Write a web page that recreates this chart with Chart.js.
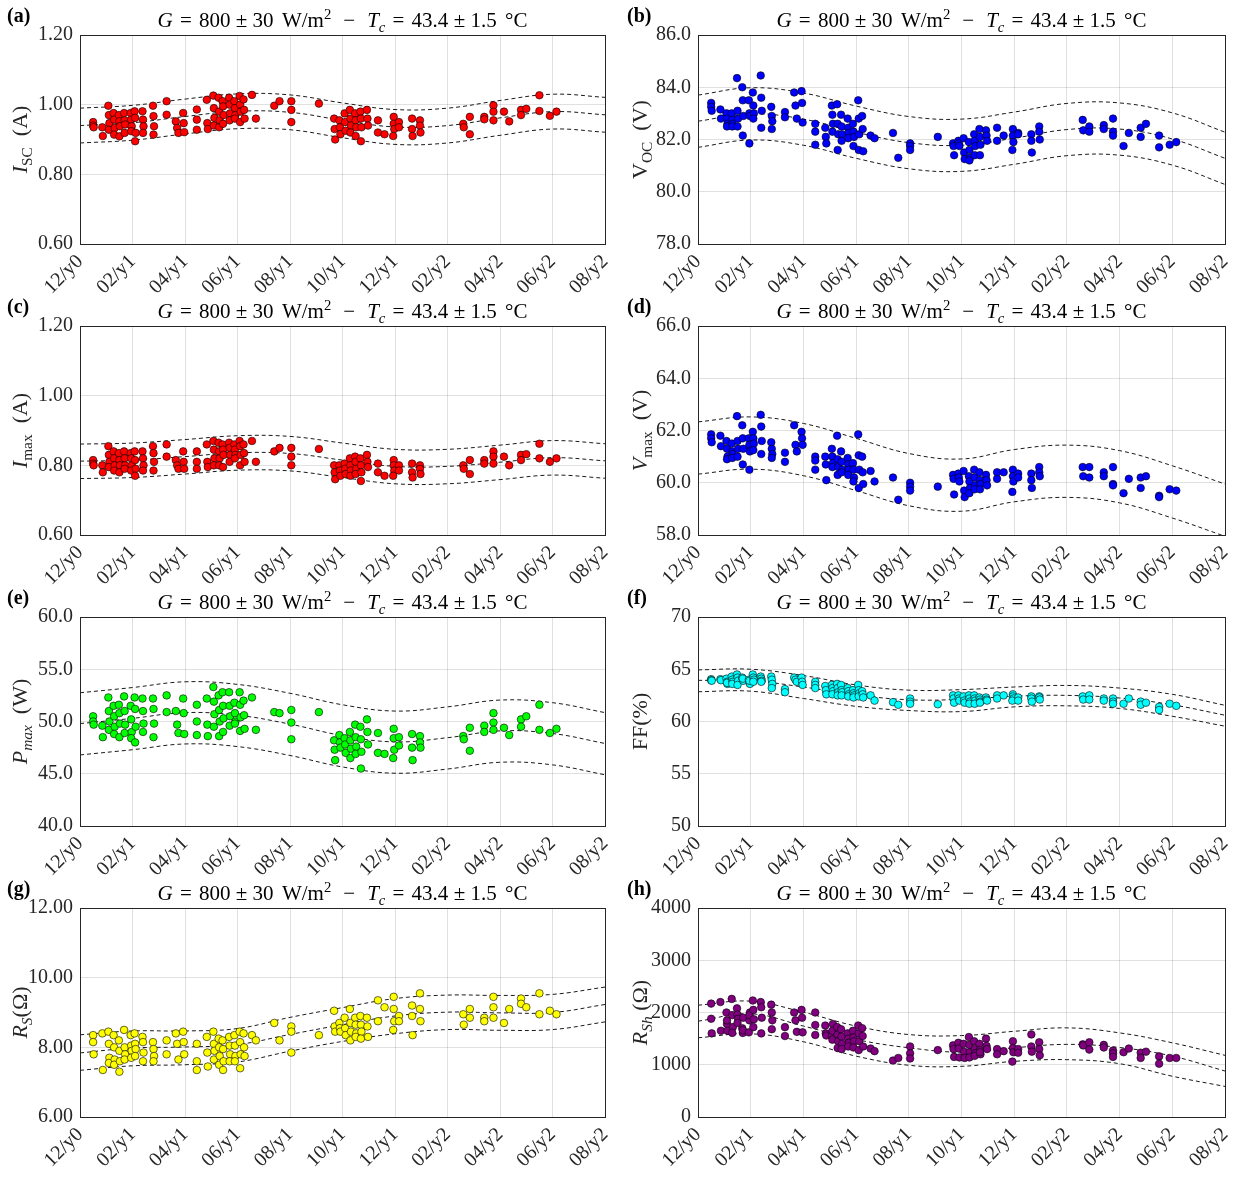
<!DOCTYPE html>
<html>
<head>
<meta charset="utf-8">
<script src="https://cdn.jsdelivr.net/npm/chart.js@4.4.0/dist/chart.umd.min.js"></script>
<style>
  body { margin: 0; background: #fff; }
  #wrap { position: relative; width: 1256px; height: 1180px; }
  #wrap canvas { position: absolute; }
</style>
</head>
<body>
<div id="wrap"></div>
<script>
// x axis: months counted from 12/y0
const monthLabels = ['12/y0', '02/y1', '04/y1', '06/y1', '08/y1', '10/y1', '12/y1', '02/y2', '04/y2', '06/y2', '08/y2'];
const lineMonths = [0, 2, 4, 6, 8, 10, 12, 14, 16, 18, 20];

// measurement dates (months), one row per measuring campaign
const measMonths = [
  0.50, 0.50, 0.52,
  0.85, 0.87,
  1.08, 1.10, 1.12, 1.10,
  1.28, 1.30, 1.32, 1.30,
  1.48, 1.50, 1.52, 1.50,
  1.68, 1.70, 1.72, 1.70,
  1.93, 1.95, 1.97, 1.95,
  2.08, 2.10, 2.12, 2.10,
  2.38, 2.40, 2.42, 2.40,
  2.78, 2.80, 2.82, 2.80,
  3.30, 3.30,
  3.65, 3.70, 3.75,
  3.93, 3.95, 3.97,
  4.45, 4.45, 4.45,
  4.83, 4.85, 4.87,
  5.08, 5.10, 5.12, 5.10,
  5.28, 5.30, 5.32, 5.30,
  5.43, 5.45, 5.47, 5.45,
  5.68, 5.70, 5.72, 5.70,
  5.88, 5.90, 5.92, 5.90,
  6.08, 6.10, 6.12, 6.10,
  6.23, 6.25, 6.27,
  6.55, 6.70,
  7.40,
  7.60,
  8.05, 8.05, 8.05,
  9.10,
  9.68, 9.70, 9.72,
  9.88, 9.90, 9.92,
  10.08, 10.10, 10.12,
  10.28, 10.30, 10.32, 10.30,
  10.48, 10.50, 10.52, 10.50,
  10.68, 10.70, 10.72, 10.70,
  10.93, 10.95, 10.97,
  11.35, 11.35,
  11.60,
  11.95, 11.95, 11.97, 11.93,
  12.15, 12.15,
  12.65, 12.65, 12.67,
  12.95, 12.95, 12.97,
  14.60, 14.62,
  14.85, 14.85,
  15.40, 15.40,
  15.75, 15.75, 15.75,
  16.15,
  16.35,
  16.80, 16.80,
  17.00,
  17.50, 17.50,
  17.90,
  18.15
];

// (a) Isc [A]
const iscVals = [
  0.950, 0.940, 0.935,
  0.935, 0.910,
  0.997, 0.970, 0.947, 0.928,
  0.976, 0.957, 0.933, 0.914,
  0.970, 0.952, 0.938, 0.909,
  0.976, 0.955, 0.943, 0.919,
  0.976, 0.957, 0.938, 0.924,
  0.981, 0.962, 0.919, 0.895,
  0.981, 0.957, 0.938, 0.919,
  0.997, 0.967, 0.938, 0.914,
  1.010, 0.971,
  0.952, 0.933, 0.919,
  0.976, 0.947, 0.921,
  0.986, 0.957, 0.928,
  1.014, 0.947, 0.930,
  1.026, 0.990, 0.962, 0.940,
  1.020, 0.980, 0.955, 0.935,
  1.010, 0.995, 0.970, 0.945,
  1.020, 1.000, 0.975, 0.955,
  1.010, 0.990, 0.970, 0.960,
  1.025, 1.000, 0.980, 0.950,
  1.015, 0.985, 0.960,
  1.028, 0.960,
  0.997,
  1.010,
  1.010, 0.985, 0.950,
  1.003,
  0.960, 0.930, 0.900,
  0.955, 0.935, 0.915,
  0.975, 0.950, 0.925,
  0.985, 0.960, 0.940, 0.920,
  0.975, 0.955, 0.935, 0.910,
  0.980, 0.960, 0.935, 0.895,
  0.985, 0.960, 0.940,
  0.955, 0.920,
  0.915,
  0.965, 0.945, 0.930, 0.910,
  0.950, 0.935,
  0.960, 0.930, 0.910,
  0.955, 0.940, 0.920,
  0.945, 0.935,
  0.965, 0.915,
  0.965, 0.958,
  0.998, 0.980, 0.955,
  0.980,
  0.952,
  0.985, 0.970,
  0.988,
  1.027, 0.982,
  0.968,
  0.980
];
const iscMid = [0.940, 0.948, 0.966, 0.981, 0.978, 0.955, 0.936, 0.940, 0.962, 0.980, 0.971];
const iscHi  = [0.990, 0.998, 1.016, 1.031, 1.028, 1.005, 0.986, 0.990, 1.012, 1.030, 1.021];
const iscLo  = [0.890, 0.898, 0.916, 0.931, 0.928, 0.905, 0.886, 0.890, 0.912, 0.930, 0.921];

// (b) Voc [V]
const vocVals = [
  83.40, 83.25, 83.10,
  83.15, 82.80,
  83.00, 82.80, 82.60, 82.50,
  83.00, 82.75, 82.60, 82.50,
  84.35, 83.10, 82.80, 82.50,
  84.00, 83.50, 82.90, 82.15,
  83.50, 83.00, 82.90, 81.85,
  83.80, 83.30, 83.00, 82.80,
  84.45, 83.60, 83.10, 82.45,
  83.25, 82.90, 82.70, 82.40,
  83.05, 82.85,
  83.80, 83.30, 82.80,
  83.85, 83.40, 82.65,
  82.60, 82.30, 81.80,
  82.45, 82.10, 81.85,
  83.30, 82.95, 82.60, 82.30,
  83.35, 82.60, 82.20, 81.60,
  82.95, 82.50, 82.20, 81.95,
  82.80, 82.45, 82.25, 82.05,
  82.60, 82.30, 82.10, 81.75,
  83.50, 82.80, 82.20, 81.60,
  82.90, 82.40, 81.55,
  82.15, 82.05,
  82.25,
  81.30,
  81.85, 81.75, 81.60,
  82.10,
  81.85, 81.75, 81.40,
  81.95, 81.85, 81.75,
  82.05, 81.50, 81.25,
  81.90, 81.60, 81.30, 81.20,
  82.20, 81.95, 81.75, 81.40,
  82.40, 82.10, 81.80, 81.40,
  82.35, 82.15, 81.95,
  82.45, 81.95,
  82.15,
  82.40, 82.15, 81.90, 81.60,
  82.25, 82.20,
  82.20, 81.95, 81.50,
  82.50, 82.30, 82.00,
  82.75, 82.35,
  82.50, 82.30,
  82.55, 82.40,
  82.80, 82.30, 82.15,
  81.75,
  82.25,
  82.45, 82.10,
  82.60,
  82.15, 81.70,
  81.80,
  81.90
];
const vocMid = [82.70, 82.98, 82.78, 82.28, 81.88, 81.78, 82.05, 82.38, 82.40, 82.02, 81.28];
const vocHi  = [83.70, 83.98, 83.78, 83.28, 82.88, 82.78, 83.05, 83.38, 83.40, 83.02, 82.28];
const vocLo  = [81.70, 81.98, 81.78, 81.28, 80.88, 80.78, 81.05, 81.38, 81.40, 81.02, 80.28];

// (c) Imax [A]
const imaxVals = [
  0.815, 0.805, 0.800,
  0.800, 0.780,
  0.855, 0.830, 0.810, 0.795,
  0.840, 0.820, 0.800, 0.785,
  0.835, 0.815, 0.800, 0.780,
  0.840, 0.820, 0.800, 0.790,
  0.835, 0.820, 0.800, 0.785,
  0.840, 0.815, 0.790, 0.770,
  0.840, 0.820, 0.800, 0.785,
  0.855, 0.835, 0.810, 0.785,
  0.860, 0.825,
  0.815, 0.800, 0.790,
  0.840, 0.810, 0.790,
  0.840, 0.810, 0.790,
  0.860, 0.810, 0.795,
  0.870, 0.845, 0.820, 0.800,
  0.865, 0.840, 0.820, 0.800,
  0.860, 0.845, 0.830, 0.795,
  0.865, 0.850, 0.830, 0.810,
  0.860, 0.845, 0.830, 0.820,
  0.870, 0.855, 0.830, 0.800,
  0.860, 0.835, 0.810,
  0.870, 0.810,
  0.840,
  0.850,
  0.850, 0.825, 0.800,
  0.847,
  0.800, 0.780, 0.760,
  0.800, 0.785, 0.770,
  0.805, 0.790, 0.775,
  0.820, 0.800, 0.785, 0.770,
  0.825, 0.810, 0.790, 0.775,
  0.820, 0.800, 0.780, 0.755,
  0.830, 0.810, 0.795,
  0.805, 0.780,
  0.770,
  0.815, 0.800, 0.785, 0.770,
  0.800, 0.785,
  0.805, 0.780, 0.765,
  0.800, 0.790, 0.775,
  0.800, 0.790,
  0.815, 0.775,
  0.815, 0.805,
  0.840, 0.825, 0.805,
  0.825,
  0.800,
  0.830, 0.815,
  0.832,
  0.862, 0.820,
  0.810,
  0.820
];
const imaxMid = [0.812, 0.815, 0.825, 0.836, 0.834, 0.815, 0.797, 0.797, 0.809, 0.822, 0.813];
const imaxHi  = [0.861, 0.864, 0.874, 0.885, 0.883, 0.864, 0.846, 0.846, 0.858, 0.871, 0.862];
const imaxLo  = [0.762, 0.765, 0.775, 0.786, 0.784, 0.765, 0.747, 0.747, 0.759, 0.772, 0.763];

// (d) Vmax [V]
const vmaxVals = [
  61.85, 61.70, 61.55,
  61.80, 61.40,
  61.60, 61.30, 61.00, 60.90,
  61.50, 61.20, 61.10, 60.95,
  62.55, 61.60, 61.30, 61.00,
  62.20, 61.70, 61.30, 60.70,
  61.70, 61.45, 61.20, 60.50,
  61.95, 61.70, 61.50, 61.25,
  62.60, 62.15, 61.60, 61.10,
  61.55, 61.30, 61.10, 60.95,
  61.15, 60.80,
  62.20, 61.45, 61.20,
  61.95, 61.70, 61.45,
  61.00, 60.85, 60.50,
  61.00, 60.70, 60.10,
  61.30, 61.00, 60.75, 60.60,
  61.80, 60.90, 60.60, 60.30,
  61.20, 60.80, 60.50, 60.40,
  60.95, 60.70, 60.50, 60.30,
  60.75, 60.50, 60.20, 60.05,
  61.85, 61.05, 60.50, 59.80,
  61.00, 60.40, 59.95,
  60.45, 60.05,
  60.20,
  59.35,
  60.00, 59.85, 59.70,
  59.85,
  60.30, 60.15, 59.55,
  60.35, 60.20, 60.05,
  60.45, 59.70, 59.45,
  60.25, 60.05, 59.80, 59.60,
  60.50, 60.20, 59.90, 59.75,
  60.40, 60.10, 59.95, 59.75,
  60.30, 60.10, 59.90,
  60.40, 60.15,
  60.40,
  60.50, 60.25, 60.05, 59.65,
  60.35, 60.20,
  60.35, 60.10, 59.80,
  60.60, 60.40, 60.25,
  60.60, 60.25,
  60.60, 60.20,
  60.40, 60.25,
  60.60, 59.95, 59.90,
  59.60,
  60.15,
  60.20, 59.80,
  60.25,
  59.50, 59.45,
  59.75,
  59.70
];
const vmaxHi = [62.33, 62.52, 62.27, 61.70, 61.12, 60.91, 61.27, 61.44, 61.23, 60.65, 59.95];
const vmaxLo = [60.33, 60.52, 60.27, 59.70, 59.12, 58.91, 59.27, 59.44, 59.23, 58.65, 57.95];

// (e) Pmax [W]
const pmaxVals = [
  50.5, 50.0, 49.7,
  49.6, 48.5,
  52.3, 51.0, 50.0, 49.2,
  51.5, 50.5, 49.5, 48.8,
  51.6, 50.8, 49.8, 48.5,
  52.4, 51.0, 49.7, 48.9,
  51.5, 50.2, 49.0, 48.4,
  52.3, 51.2, 49.5, 48.0,
  52.2, 51.0, 49.8, 49.0,
  52.2, 51.2, 49.8, 48.5,
  52.5, 50.9,
  51.0, 49.7, 48.9,
  52.2, 50.8, 48.8,
  51.6, 50.0, 48.7,
  52.2, 49.7, 48.6,
  53.3, 51.9, 50.7, 49.5,
  52.5, 51.1, 50.0, 48.6,
  52.8, 51.5, 50.3, 49.0,
  52.8, 51.5, 50.5, 49.6,
  51.8, 50.8, 50.0, 49.8,
  52.8, 51.6, 50.4, 49.1,
  52.0, 50.6, 49.3,
  52.3, 49.2,
  50.9,
  50.8,
  51.1, 49.9, 48.3,
  50.9,
  48.2, 47.3, 46.3,
  48.7, 48.0, 47.5,
  48.4, 47.8, 47.0,
  49.0, 48.2, 47.4, 46.5,
  49.7, 48.5, 47.6, 46.9,
  49.5, 48.3, 47.1, 45.5,
  50.2, 49.0, 47.8,
  48.9, 47.0,
  46.9,
  49.3, 48.4, 47.3, 46.5,
  48.5, 47.7,
  48.8, 47.5, 46.3,
  48.6, 48.0, 47.5,
  48.6, 48.3,
  49.4, 47.2,
  49.6, 49.0,
  50.8, 49.9, 49.2,
  49.4,
  48.7,
  50.2, 49.5,
  50.5,
  51.6, 49.2,
  48.9,
  49.3
];
const pmaxMid = [49.80, 50.30, 50.85, 50.60, 49.75, 48.65, 48.05, 48.45, 49.10, 48.85, 47.90];
const pmaxHi  = [52.75, 53.25, 53.80, 53.55, 52.70, 51.60, 51.00, 51.40, 52.05, 51.80, 50.85];
const pmaxLo  = [46.80, 47.30, 47.85, 47.60, 46.75, 45.65, 45.05, 45.45, 46.10, 45.85, 44.90];

// (f) FF [%]
const ffVals = [
  64.05, 63.95, 63.90,
  64.05, 63.95,
  64.10, 63.80, 63.60, 63.70,
  64.30, 64.00, 63.80, 63.60,
  64.50, 64.20, 63.90, 63.50,
  64.20, 64.00, 63.90, 64.10,
  64.00, 63.80, 63.60, 63.90,
  64.50, 64.20, 64.00, 63.80,
  64.30, 64.10, 63.90, 63.80,
  64.30, 64.00, 63.60, 63.20,
  63.10, 62.80,
  64.20, 64.00, 63.80,
  64.20, 63.80, 63.50,
  63.80, 63.50, 63.20,
  63.40, 63.00, 62.60,
  63.50, 63.20, 62.90, 62.60,
  63.60, 63.20, 62.80, 62.50,
  63.50, 63.00, 62.80, 62.50,
  63.20, 62.90, 62.60, 62.40,
  63.00, 62.70, 62.50, 62.30,
  63.50, 63.00, 62.70, 62.40,
  62.90, 62.60, 62.30,
  62.50, 62.00,
  61.85,
  61.60,
  62.20, 61.90, 61.70,
  61.65,
  62.50, 62.20, 61.80,
  62.50, 62.20, 62.00,
  62.40, 62.00, 61.80,
  62.50, 62.20, 61.90, 61.70,
  62.50, 62.20, 62.00, 61.70,
  62.30, 62.10, 61.90, 61.80,
  62.30, 62.10, 62.00,
  62.50, 62.20,
  62.50,
  62.60, 62.40, 62.20, 62.00,
  62.30, 62.00,
  62.40, 62.20, 61.90,
  62.40, 62.30, 62.10,
  62.40, 62.10,
  62.50, 62.10,
  62.20, 62.00,
  62.20, 61.90, 61.70,
  61.70,
  62.20,
  61.90, 61.60,
  61.80,
  61.40, 61.10,
  61.70,
  61.50
];
const ffMid = [63.94, 63.90, 63.30, 62.55, 62.08, 62.12, 62.42, 62.50, 62.25, 61.60, 60.60];
const ffHi  = [64.94, 65.00, 64.40, 63.50, 63.00, 63.05, 63.30, 63.45, 63.20, 62.60, 61.55];
const ffLo  = [62.85, 62.90, 62.20, 61.45, 61.05, 60.95, 61.40, 61.50, 61.25, 60.50, 59.55];

// (g) Rs [Ohm]
const rsVals = [
  8.35, 8.15, 7.80,
  8.40, 7.35,
  8.45, 8.10, 7.70, 7.55,
  8.35, 8.00, 7.65, 7.50,
  8.20, 7.90, 7.60, 7.30,
  8.50, 8.00, 7.80, 7.65,
  8.35, 8.05, 7.90, 7.70,
  8.40, 8.10, 7.95, 7.75,
  8.30, 8.15, 7.85, 7.60,
  8.15, 7.95, 7.75, 7.60,
  8.20, 7.80,
  8.40, 8.10, 7.65,
  8.45, 8.15, 7.80,
  8.10, 7.60, 7.35,
  8.30, 7.85, 7.45,
  8.45, 8.10, 7.90, 7.65,
  8.25, 8.00, 7.75, 7.50,
  8.20, 7.95, 7.60, 7.35,
  8.30, 8.05, 7.80, 7.60,
  8.35, 8.05, 7.75, 7.60,
  8.45, 8.15, 7.80, 7.40,
  8.40, 8.00, 7.75,
  8.35, 8.20,
  8.70,
  8.20,
  8.60, 8.45, 7.85,
  8.35,
  9.05, 8.60, 8.45,
  8.70, 8.55, 8.45,
  8.85, 8.55, 8.35,
  9.10, 8.70, 8.45, 8.20,
  8.85, 8.65, 8.40, 8.30,
  8.90, 8.65, 8.45, 8.25,
  8.85, 8.60, 8.30,
  9.35, 8.75,
  9.15,
  9.45, 9.10, 8.75, 8.50,
  8.90, 8.75,
  9.20, 8.90, 8.35,
  9.55, 9.10, 8.75,
  8.95, 8.65,
  9.10, 8.85,
  8.85, 8.75,
  9.45, 9.15, 8.85,
  8.70,
  9.10,
  9.40, 9.25,
  9.15,
  9.55, 8.95,
  9.05,
  8.95
];
const rsMid = [7.84, 7.98, 8.01, 8.08, 8.37, 8.65, 8.90, 9.01, 8.99, 9.00, 9.23];
const rsHi  = [8.36, 8.47, 8.47, 8.54, 8.86, 9.14, 9.40, 9.50, 9.49, 9.52, 9.73];
const rsLo  = [7.34, 7.47, 7.50, 7.58, 7.89, 8.17, 8.39, 8.51, 8.49, 8.51, 8.73];

// (h) Rsh [Ohm]
const rshVals = [
  2170, 1880, 1600,
  2200, 1650,
  2000, 1780, 1650, 1850,
  2260, 1950, 1720, 1610,
  2080, 1960, 1880, 1800,
  1700, 1610, 1900, 1660,
  1620, 1850, 2000, 1950,
  2230, 2050, 1870, 1720,
  2200, 2100, 1900, 1600,
  2150, 2000, 1850, 1680,
  1720, 1550,
  2000, 1850, 1630,
  2050, 1900, 1620,
  2000, 1760, 1570,
  1750, 1600, 1560,
  1550, 1480, 1780, 1650,
  1720, 1580, 1450, 1320,
  1680, 1540, 1400, 1300,
  1600, 1500, 1420, 1350,
  1650, 1520, 1450, 1330,
  1750, 1600, 1450, 1280,
  1700, 1550, 1350,
  1310, 1260,
  1080,
  1130,
  1350, 1220, 1120,
  1280,
  1370, 1300, 1150,
  1420, 1310, 1140,
  1400, 1250, 1130,
  1530, 1380, 1240, 1140,
  1450, 1300, 1220, 1170,
  1400, 1280, 1200, 1240,
  1500, 1360, 1300,
  1300, 1200,
  1260,
  1450, 1320, 1240, 1060,
  1300, 1230,
  1580, 1350, 1250,
  1430, 1300, 1180,
  1390, 1370,
  1430, 1290,
  1380, 1330,
  1270, 1220, 1150,
  1240,
  1310,
  1230, 1130,
  1250,
  1160, 1020,
  1130,
  1130
];
const rshMid = [1834, 1975, 1740, 1484, 1325, 1242, 1325, 1390, 1330, 1165, 880];
const rshHi  = [2140, 2216, 2006, 1740, 1578, 1558, 1640, 1706, 1610, 1420, 1180];
const rshLo  = [1516, 1592, 1440, 1165, 990, 970, 1065, 1097, 1020, 780, 585];

const SERIF = "'Liberation Serif', 'DejaVu Serif', serif";
const TEXT = '#262626';

// title pieces; gaps are stretched so the title spans TITLE_W
const TITLE_W = 370;
const titleSegs = [
  { t: 'G', it: 1 }, { gap: 0.3 }, { t: '=' }, { gap: 0.3 }, { t: '800' }, { gap: 0.22 }, { t: '±' }, { gap: 0.22 },
  { t: '30' }, { gap: 0.35 }, { t: 'W/m' }, { t: '2', sup: 1 }, { gap: 0.5 }, { t: '−' }, { gap: 0.5 },
  { t: 'T', it: 1 }, { t: 'c', it: 1, sub: 1 }, { gap: 0.3 }, { t: '=' }, { gap: 0.3 }, { t: '43.4' }, { gap: 0.22 },
  { t: '±' }, { gap: 0.22 }, { t: '1.5' }, { gap: 0.35 }, { t: '°C' }
];

const panels = [
  { letter: '(a)', vals: iscVals, lines: [iscHi, iscMid, iscLo], color: '#ff0000', min: 0.6, max: 1.2, step: 0.2, dec: 2,
    label: [{ t: 'I', it: 1 }, { t: 'SC', sub: 1 }, { t: '  (A)' }] },
  { letter: '(b)', vals: vocVals, lines: [vocHi, vocMid, vocLo], color: '#0000ff', min: 78, max: 86, step: 2, dec: 1,
    label: [{ t: 'V' }, { t: 'OC', sub: 1 }, { t: '  (V)' }] },
  { letter: '(c)', vals: imaxVals, lines: [imaxHi, imaxMid, imaxLo], color: '#ff0000', min: 0.6, max: 1.2, step: 0.2, dec: 2,
    label: [{ t: 'I', it: 1 }, { t: 'max', sub: 1 }, { t: '  (A)' }] },
  { letter: '(d)', vals: vmaxVals, lines: [vmaxHi, vmaxLo], color: '#0000ff', min: 58, max: 66, step: 2, dec: 1,
    label: [{ t: 'V', it: 1 }, { t: 'max', sub: 1 }, { t: '  (V)' }] },
  { letter: '(e)', vals: pmaxVals, lines: [pmaxHi, pmaxMid, pmaxLo], color: '#00ff00', min: 40, max: 60, step: 5, dec: 1,
    label: [{ t: 'P', it: 1 }, { t: 'max', it: 1, sub: 1 }, { t: '  (W)' }] },
  { letter: '(f)', vals: ffVals, lines: [ffHi, ffMid, ffLo], color: '#00ffff', min: 50, max: 70, step: 5, dec: 0,
    label: [{ t: 'FF(%)' }] },
  { letter: '(g)', vals: rsVals, lines: [rsHi, rsMid, rsLo], color: '#ffff00', min: 6, max: 12, step: 2, dec: 2,
    label: [{ t: 'R', it: 1 }, { t: 'S', it: 1, sub: 1 }, { t: '(Ω)' }] },
  { letter: '(h)', vals: rshVals, lines: [rshHi, rshMid, rshLo], color: '#800080', min: 0, max: 4000, step: 1000, dec: 0,
    label: [{ t: 'R', it: 1 }, { t: 'Sh', it: 1, sub: 1 }, { t: ' (Ω)' }] }
];

function drawRich(ctx, segs, x, y, size, align, bold, fitW) {
  const parts = segs.map(s => {
    if (s.gap) return { gap: s.gap * size, w: s.gap * size };
    const fs = (s.sub || s.sup) ? size * 0.7 : size;
    const font = (s.it ? 'italic ' : '') + (bold ? 'bold ' : '') + fs + 'px ' + SERIF;
    ctx.font = font;
    return { t: s.t, font: font, w: ctx.measureText(s.t).width,
             dy: s.sub ? size * 0.22 : (s.sup ? -size * 0.38 : 0) };
  });
  if (fitW) {
    const glyphs = parts.filter(p => !p.gap).reduce((acc, p) => acc + p.w, 0);
    const gaps = parts.filter(p => p.gap).reduce((acc, p) => acc + p.w, 0);
    const k = gaps > 0 ? Math.max(0.5, (fitW - glyphs) / gaps) : 1;
    parts.forEach(p => { if (p.gap) p.w *= k; });
  }
  const total = parts.reduce((acc, p) => acc + p.w, 0);
  let cx = align === 'center' ? x - total / 2 : x;
  ctx.textAlign = 'left';
  ctx.textBaseline = 'alphabetic';
  parts.forEach(p => {
    if (!p.gap) {
      ctx.font = p.font;
      ctx.fillText(p.t, cx, y + p.dy);
    }
    cx += p.w;
  });
}

// box, title, panel letter and y label
const panelDecor = {
  id: 'panelDecor',
  afterDraw(chart, args, opts) {
    const ctx = chart.ctx;
    const a = chart.chartArea;
    ctx.save();
    ctx.strokeStyle = TEXT;
    ctx.lineWidth = 1;
    ctx.strokeRect(Math.round(a.left) + 0.5, Math.round(a.top) + 0.5,
                   Math.round(a.right - a.left), Math.round(a.bottom - a.top));
    ctx.fillStyle = '#000';
    drawRich(ctx, titleSegs, (a.left + a.right) / 2, 27, 21, 'center', false, TITLE_W);
    drawRich(ctx, [{ t: opts.letter }], 7, 22, 20, 'left', true);
    ctx.fillStyle = TEXT;
    ctx.translate(20, (a.top + a.bottom) / 2);
    ctx.rotate(-Math.PI / 2);
    drawRich(ctx, opts.label, 0, 7, 22, 'center');
    ctx.restore();
  }
};

const wrap = document.getElementById('wrap');

panels.forEach((p, k) => {
  const col = k % 2;
  const row = Math.floor(k / 2);
  const cv = document.createElement('canvas');
  const w = col ? 636 : 628;
  cv.width = w;
  cv.height = 305;
  cv.style.left = (col ? 620 : 0) + 'px';
  cv.style.top = (row * 291) + 'px';
  wrap.appendChild(cv);

  // dashed bands sit under the points
  const datasets = p.lines.map(arr => ({
    data: lineMonths.map((m, i) => ({ x: m, y: arr[i] })),
    showLine: true,
    pointRadius: 0,
    borderColor: '#1a1a1a',
    borderWidth: 1,
    borderDash: [4, 3],
    tension: 0.4,
    order: 1
  }));
  datasets.push({
    data: measMonths.map((m, i) => ({ x: m, y: p.vals[i] })),
    showLine: false,
    pointRadius: 3.8,
    pointBackgroundColor: p.color,
    pointBorderColor: 'rgba(0,0,0,0.85)',
    pointBorderWidth: 0.7,
    order: 0
  });

  const tickFont = { family: SERIF, size: 20 };
  const gridColor = 'rgba(38,38,38,0.14)';

  new Chart(cv, {
    type: 'scatter',
    data: { datasets: datasets },
    plugins: [panelDecor],
    options: {
      responsive: false,
      animation: false,
      devicePixelRatio: 1,
      layout: { padding: { left: 0, top: 35, right: col ? 31 : 21, bottom: 11 } },
      plugins: {
        legend: { display: false },
        tooltip: { enabled: false },
        panelDecor: { letter: p.letter, label: p.label }
      },
      scales: {
        x: {
          type: 'linear', min: 0, max: 20,
          afterFit: s => { s.height = 50; },
          grid: { color: gridColor, drawTicks: false },
          border: { display: false },
          ticks: {
            stepSize: 2, autoSkip: false, minRotation: 45, maxRotation: 45, padding: 6,
            font: tickFont, color: TEXT,
            callback: v => monthLabels[Math.round(v / 2)]
          }
        },
        y: {
          type: 'linear', min: p.min, max: p.max,
          afterFit: s => { s.width = col ? 78 : 80; },
          grid: { color: gridColor, drawTicks: false },
          border: { display: false },
          ticks: {
            stepSize: p.step, padding: 7, font: tickFont, color: TEXT,
            callback: v => Number(v).toFixed(p.dec)
          }
        }
      }
    }
  });
});

panels.forEach(p => {
  if (p.vals.length !== measMonths.length) console.warn(p.letter, p.vals.length, measMonths.length);
});
</script>
</body>
</html>
